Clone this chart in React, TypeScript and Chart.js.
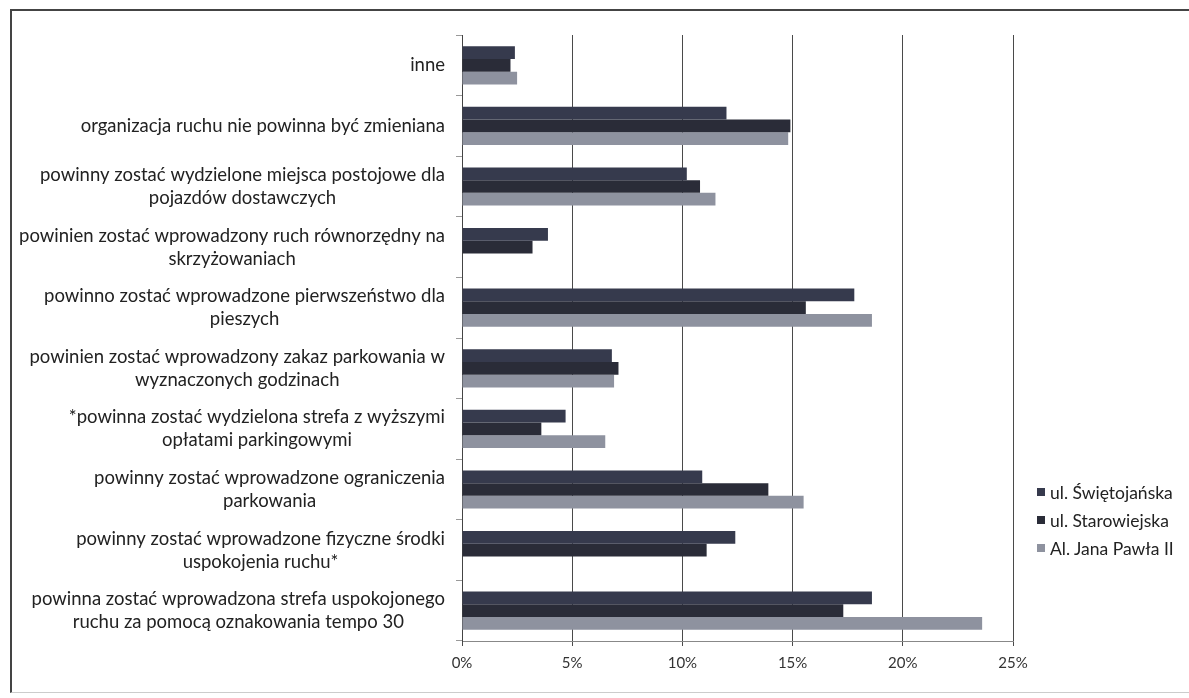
import React, { useEffect, useRef } from "react";
import { Chart, registerables } from "chart.js";

Chart.register(...registerables);

const categories: string[][] = [
  ["inne"],
  ["organizacja ruchu nie powinna być zmieniana"],
  ["powinny zostać wydzielone miejsca postojowe dla", "pojazdów dostawczych"],
  ["powinien zostać wprowadzony ruch równorzędny na", "skrzyżowaniach"],
  ["powinno zostać wprowadzone pierwszeństwo dla", "pieszych"],
  ["powinien zostać wprowadzony zakaz parkowania w", "wyznaczonych godzinach"],
  ["*powinna zostać wydzielona strefa z wyższymi", "opłatami parkingowymi"],
  ["powinny zostać wprowadzone ograniczenia", "parkowania"],
  ["powinny zostać wprowadzone fizyczne środki", "uspokojenia ruchu*"],
  ["powinna zostać wprowadzona strefa uspokojonego", "ruchu za pomocą oznakowania tempo 30"],
];

const seriesNames = ["ul. Świętojańska", "ul. Starowiejska", "Al. Jana Pawła II"];
const swietojanska = [2.4, 12.0, 10.2, 3.9, 17.8, 6.8, 4.7, 10.9, 12.4, 18.6];
const starowiejska = [2.2, 14.9, 10.8, 3.2, 15.6, 7.1, 3.6, 13.9, 11.1, 17.3];
const janaPawla = [2.5, 14.8, 11.5, 0, 18.6, 6.9, 6.5, 15.5, 0, 23.6];
const xTicks = [0, 5, 10, 15, 20, 25];

const colors = ["#363a4d", "#2a2c38", "#8e929f"];
const FONT = "Lato, 'Open Sans', sans-serif";

const yLabelPlugin = {
  id: "yLabelPlugin",
  afterDraw(chart: any) {
    const ctx = chart.ctx;
    const yScale = chart.scales.y;
    const right = 445;
    const lineH = 23;
    ctx.save();
    ctx.font = `18.5px ${FONT}`;
    ctx.fillStyle = "#222";
    ctx.textBaseline = "middle";
    ctx.textAlign = "center";
    categories.forEach((lines, i) => {
      const y = yScale.getPixelForTick(i);
      let maxW = 0;
      lines.forEach((l) => {
        maxW = Math.max(maxW, ctx.measureText(l).width);
      });
      const cx = right - maxW / 2;
      const y0 = y - ((lines.length - 1) * lineH) / 2;
      lines.forEach((l, j) => ctx.fillText(l, cx, y0 + j * lineH));
    });
    ctx.restore();
  },
};

export default function App() {
  const canvasRef = useRef<HTMLCanvasElement | null>(null);

  useEffect(() => {
    document.body.style.margin = "0";
    const canvas = canvasRef.current;
    if (!canvas) return;
    const chart = new Chart(canvas, {
      type: "bar",
      data: {
        labels: categories.map((c) => c.join(" ")),
        datasets: [swietojanska, starowiejska, janaPawla].map((d, i) => ({
          label: seriesNames[i],
          data: d,
          backgroundColor: colors[i],
          borderWidth: 0,
          barPercentage: 1.0,
          categoryPercentage: 0.63,
        })),
      },
      options: {
        indexAxis: "y",
        animation: false,
        responsive: false,
        maintainAspectRatio: false,
        layout: { padding: { left: 0, right: 176, top: 35, bottom: 17 } },
        plugins: {
          legend: { display: false },
          tooltip: { enabled: false },
        },
        scales: {
          x: {
            min: 0,
            max: 25,
            afterBuildTicks(scale: any) {
              scale.ticks = xTicks.map((v) => ({ value: v }));
            },
            afterFit(scale: any) {
              scale.height = 40;
            },
            ticks: {
              callback: (v: any) => `${v}%`,
              color: "#333",
              font: { family: FONT, size: 15 },
              padding: 8,
            },
            grid: { color: "#4a4a4a", lineWidth: 1, tickLength: 5 },
            border: { color: "#888", width: 1 },
          },
          y: {
            type: "category",
            offset: true,
            afterFit(scale: any) {
              scale.width = 462;
            },
            ticks: { display: false },
            grid: {
              offset: true,
              drawOnChartArea: false,
              tickLength: 6,
              color: "#999",
            },
            border: { color: "#444", width: 1 },
          },
        },
      },
      plugins: [yLabelPlugin],
    } as any);
    return () => chart.destroy();
  }, []);

  const legendTop = [492, 520, 548];

  return (
    <div style={{ position: "relative", width: 1189, height: 698, background: "#fff", overflow: "hidden" }}>
      <canvas ref={canvasRef} width={1189} height={698} style={{ position: "absolute", left: 0, top: 0 }} />
      <div
        style={{
          position: "absolute",
          left: 10,
          top: 9,
          width: 1179,
          height: 684,
          borderTop: "2px solid #444",
          borderLeft: "2px solid #444",
          borderBottom: "1px solid #ccc",
          boxSizing: "border-box",
          pointerEvents: "none",
        }}
      />
      {seriesNames.map((n, i) => (
        <div
          key={n}
          style={{
            position: "absolute",
            left: 1037,
            top: legendTop[i] - 11,
            height: 22,
            display: "flex",
            alignItems: "center",
            fontFamily: FONT,
            fontSize: 17.5,
            color: "#222",
            whiteSpace: "nowrap",
          }}
        >
          <span style={{ display: "inline-block", width: 8, height: 8, background: colors[i], marginRight: 5 }} />
          {n}
        </div>
      ))}
    </div>
  );
}
